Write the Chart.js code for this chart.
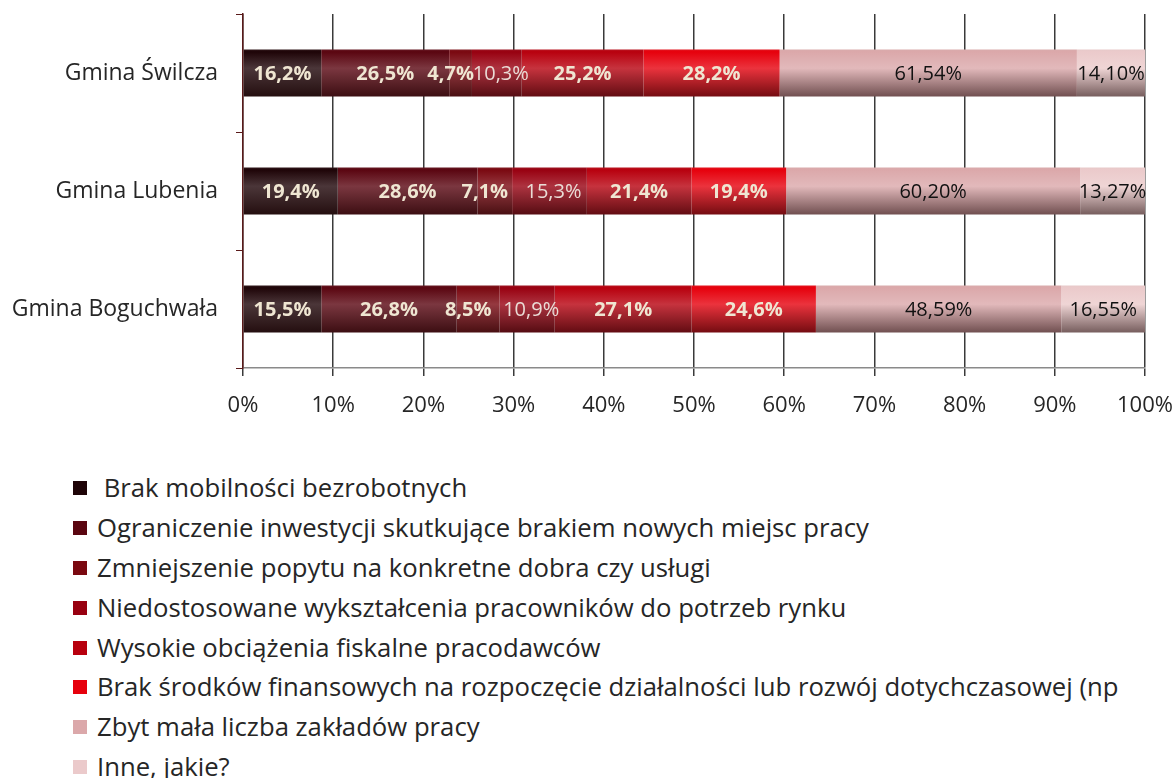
<!DOCTYPE html>
<html>
<head>
<meta charset="utf-8">
<script src="https://cdn.jsdelivr.net/npm/chart.js@4/dist/chart.umd.min.js"></script>
<style>
  body { margin: 0; background: #fff; width: 1176px; height: 778px; overflow: hidden; position: relative; }
  #wrap { position: absolute; left: 0; top: 0; width: 1176px; height: 440px; }
  #legend { position: absolute; left: 73px; top: 468px; font-family: "Open Sans", sans-serif; font-size: 25.7px; color: #262626; }
  #legend div { height: 39.9px; line-height: 39.9px; white-space: pre; display: flex; align-items: center; }
  #legend span.box { display: inline-block; width: 14px; height: 14px; margin-right: 10px; }
</style>
</head>
<body>
<div id="wrap"><canvas id="chart"></canvas></div>
<div id="legend"></div>
<script>
const categories = ["Gmina Świlcza", "Gmina Lubenia", "Gmina Boguchwała"];
const seriesNames = [
    " Brak mobilności bezrobotnych",
    "Ograniczenie inwestycji skutkujące brakiem nowych miejsc pracy",
    "Zmniejszenie popytu na konkretne dobra czy usługi",
    "Niedostosowane wykształcenia pracowników do potrzeb rynku",
    "Wysokie obciążenia fiskalne pracodawców",
    "Brak środków finansowych na rozpoczęcie działalności lub rozwój dotychczasowej (np",
    "Zbyt mała liczba zakładów pracy",
    "Inne, jakie?"
];
// raw answers per series, order: Świlcza, Lubenia, Boguchwała
const brakMobilnosci = [16.2, 19.4, 15.5];
const ograniczenieInwestycji = [26.5, 28.6, 26.8];
const zmniejszeniePopytu = [4.7, 7.1, 8.5];
const niedostosowane = [10.3, 15.3, 10.9];
const wysokieObciazenia = [25.2, 21.4, 27.1];
const brakSrodkow = [28.2, 19.4, 24.6];
const zbytMalaLiczba = [61.54, 60.20, 48.59];
const inne = [14.10, 13.27, 16.55];
const xTicks = [0, 10, 20, 30, 40, 50, 60, 70, 80, 90, 100];

const rawSeries = [brakMobilnosci, ograniczenieInwestycji, zmniejszeniePopytu, niedostosowane,
    wysokieObciazenia, brakSrodkow, zbytMalaLiczba, inne];
const decimals = [1, 1, 1, 1, 1, 1, 2, 2];
const colors = ["#1e0407", "#5a0510", "#7a0810", "#980010", "#b8000e", "#e6000c", "#dba8aa", "#ebcacb"];
const labelColors = ["#efe6d2", "#efe6d2", "#efe6d2", "#eadcd6", "#efe6d2", "#efe6d2", "#111", "#111"];
const labelBold = [true, true, true, false, true, true, false, false];
// small nudges so the narrow segments' labels don't collide
const labelNudge = [0, 0, -10, 4, 0, 0, 0, 0];
const barPct = 0.4;

// 100% stacked: normalise each category by its total
const totals = categories.map((_, i) => rawSeries.reduce((s, arr) => s + arr[i], 0));

function hexRgb(h) {
    const n = parseInt(h.slice(1), 16);
    return [(n >> 16) & 255, (n >> 8) & 255, n & 255];
}
function mix(h, target, t) {
    const c = hexRgb(h);
    return "rgb(" + c.map((v, i) => Math.round(v + (target[i] - v) * t)).join(",") + ")";
}

function barFill(ctx) {
    const chart = ctx.chart;
    const base = colors[ctx.datasetIndex];
    if (!chart.chartArea || ctx.type !== "data" || !chart.scales.y) return base;
    const ys = chart.scales.y;
    const y = ys.getPixelForValue(ctx.dataIndex);
    const half = (ys.bottom - ys.top) / categories.length * barPct / 2;
    const g = chart.ctx.createLinearGradient(0, y - half, 0, y + half);
    g.addColorStop(0, mix(base, [200, 190, 190], 0.12));
    g.addColorStop(0.05, base);
    g.addColorStop(0.4, mix(base, [255, 255, 255], 0.2));
    g.addColorStop(1, mix(base, [40, 20, 20], 0.6));
    return g;
}

const valueLabels = {
    id: "valueLabels",
    afterDatasetsDraw(chart) {
        const c = chart.ctx;
        c.save();
        c.textAlign = "center";
        c.textBaseline = "middle";
        chart.data.datasets.forEach((ds, di) => {
            const meta = chart.getDatasetMeta(di);
            meta.data.forEach((el, i) => {
                const txt = rawSeries[di][i].toFixed(decimals[di]).replace(".", ",") + "%";
                c.font = (labelBold[di] ? "bold " : "") + "20px 'Open Sans', sans-serif";
                c.fillStyle = labelColors[di];
                c.fillText(txt, (el.x + el.base) / 2 + labelNudge[di], el.y + 1);
            });
        });
        c.restore();
    }
};

const chart = new Chart(document.getElementById("chart"), {
    type: "bar",
    data: {
        labels: categories,
        datasets: seriesNames.map((name, si) => ({
            label: name,
            data: rawSeries[si].map((v, i) => v / totals[i] * 100),
            backgroundColor: barFill,
            borderWidth: 0,
            barPercentage: barPct,
            categoryPercentage: 1
        }))
    },
    options: {
        indexAxis: "y",
        responsive: true,
        maintainAspectRatio: false,
        animation: false,
        layout: { padding: { top: 14, right: 31, left: 0, bottom: 0 } },
        plugins: { legend: { display: false }, tooltip: { enabled: false } },
        scales: {
            x: {
                stacked: true,
                min: 0,
                max: 100,
                afterBuildTicks: (s) => { s.ticks = xTicks.map(v => ({ value: v })); },
                afterFit: (s) => { s.height = 72; s.paddingLeft = 0; s.paddingRight = 0; },
                ticks: {
                    callback: (v) => v + "%",
                    color: "#262626",
                    padding: 17,
                    font: { family: "'Open Sans', sans-serif", size: 22 }
                },
                grid: { color: "#3a3a3a", lineWidth: 1.5, tickLength: 8 },
                border: { color: "#8a8a8a", width: 1.5 }
            },
            y: {
                stacked: true,
                afterFit: (s) => { s.width = 243; s.paddingTop = 0; s.paddingBottom = 0; },
                ticks: {
                    color: "#262626",
                    padding: 18,
                    font: { family: "'Open Sans', sans-serif", size: 23 }
                },
                grid: { drawOnChartArea: false, offset: true, tickLength: 7, color: "#5a1a1a" },
                border: { color: "#5a1a1a", width: 1.5 }
            }
        }
    },
    plugins: [valueLabels]
});

const legend = document.getElementById("legend");
chart.data.datasets.forEach((ds, i) => {
    const row = document.createElement("div");
    const box = document.createElement("span");
    box.className = "box";
    box.style.background = colors[i];
    row.appendChild(box);
    row.appendChild(document.createTextNode(ds.label));
    legend.appendChild(row);
});
</script>
</body>
</html>
